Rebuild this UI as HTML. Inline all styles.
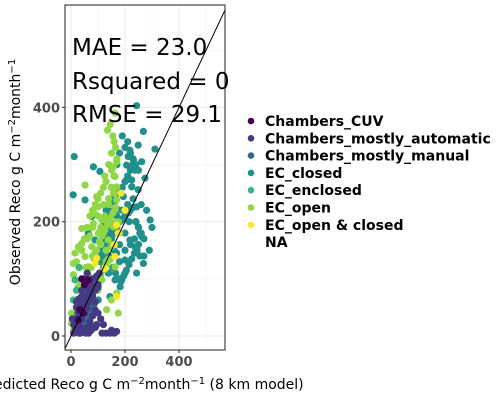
<!DOCTYPE html>
<html><head><meta charset="utf-8">
<style>
html,body{margin:0;padding:0;background:#fff;}
svg{display:block;font-family:"DejaVu Sans","Liberation Sans",sans-serif;}
</style></head>
<body>
<svg id="chart" width="500" height="400" viewBox="0 0 500 400">
<defs><clipPath id="pc"><rect x="65" y="5" width="160" height="345"/></clipPath></defs>
<rect x="65" y="5" width="160" height="345" fill="#fff"/>
<g id="grid"></g>
<g id="points" clip-path="url(#pc)"></g>
<g id="line" clip-path="url(#pc)"></g>
<rect x="65" y="5" width="160" height="345" fill="none" stroke="#333" stroke-width="1.1"/>
<g id="axes"></g>
<text x="72" y="55" font-size="23" fill="#000">MAE = 23.0</text>
<text x="72" y="89" font-size="23" fill="#000">Rsquared = 0</text>
<text x="72" y="122" font-size="23" fill="#000">RMSE = 29.1</text>
<text transform="translate(20,172) rotate(-90)" text-anchor="middle" font-size="14" fill="#000">Observed Reco g C m<tspan dy="-5" font-size="10">−2</tspan><tspan dy="5">month</tspan><tspan dy="-5" font-size="10">−1</tspan></text>
<text x="142" y="389" text-anchor="middle" font-size="14" fill="#000">Predicted Reco g C m<tspan dy="-5" font-size="10">−2</tspan><tspan dy="5">month</tspan><tspan dy="-5" font-size="10">−1</tspan><tspan dy="5"> (8 km model)</tspan></text>
<g id="legend"></g>
</svg>
<script>
const groups = ["Chambers_CUV","Chambers_mostly_automatic","Chambers_mostly_manual","EC_closed","EC_enclosed","EC_open","EC_open & closed","NA"];
const colors = ["#440154","#443A83","#31688E","#21908C","#35B779","#8FD744","#FDE725",null];
const xTicks = [0,200,400];
const yTicks = [0,200,400];

const ecOpenX = [163,169,157,163,52,95,101,40,83,114,157,163,157,15,9,9,40,52,27,77,101,138,64,114,144,126,169,175,150,132,15,2,2,27,40,89,150,163,138,169,169,60,70,80,110,130,120,150,100,90,60,45,30,20,140,125,175,180,150,160,130,110,75,55,35,25,160,150,85,70,
  10,20,30,40,50,60,70,80,90,100,110,120,130,140,15,25,35,45,55,65,75,85,95,105,115,125,135,145,155,165,20,40,60,80,100,120,140,160,150,140,130,120,110,100,90,80,70,60,50,40,30,170,165,155,145,135,125];
const ecOpenY = [390,305,296,279,264,244,226,188,197,203,250,221,191,145,127,107,162,139,156,156,180,168,121,98,133,121,75,40,63,46,63,40,22,86,98,145,156,121,203,261,238,110,120,140,160,150,180,200,80,60,50,70,30,40,230,210,200,180,260,340,130,190,100,120,90,60,280,320,215,175,
  10,15,25,35,45,55,65,75,85,95,105,115,125,135,30,45,60,75,90,105,120,135,150,165,175,185,195,205,215,225,130,150,170,190,210,230,240,250,290,300,270,260,250,240,230,220,210,190,170,150,120,310,330,350,370,360,280];

const ecClosedX = [12,8,243,268,311,249,218,262,206,83,107,237,274,225,194,243,280,293,249,262,237,268,243,200,126,64,89,163,188,126,169,200,89,138,182,52,77,175,212,218,114,163,52,101,144,188,225,249,206,231,212,150,140,160,175,190,200,210,220,230,180,170,150,130,110,100,120,140,160,180,200,220,240,260,230,210,190,170,150,130,200,215,180,160,140,120,250,270,290,300,255,235,
  100,110,120,130,140,150,160,170,180,190,200,210,220,230,240,250,260,270,105,115,125,135,145,155,165,175,185,195,205,215,225,235,245,255,200,210,220,230,240,250,190,180,170,160,150,140,130,120];
const ecClosedY = [314,247,403,358,327,334,325,305,299,296,288,290,276,261,244,226,220,203,191,174,156,127,110,110,191,180,168,180,203,156,145,133,98,110,86,75,209,221,215,168,133,98,238,63,69,98,273,256,273,308,314,240,220,230,250,260,270,280,290,300,200,210,170,180,150,140,120,110,120,130,150,160,200,230,240,230,220,190,200,210,180,200,160,150,140,130,160,140,150,190,180,170,
  150,160,170,175,180,185,190,195,200,205,210,215,220,225,200,190,180,170,130,140,150,160,170,120,110,100,95,105,115,125,135,145,150,140,330,340,320,310,300,290,350,320,300,280,260,240,220,200];

const autoX = [10,20,30,40,50,60,70,80,90,100,15,25,35,45,55,65,75,85,95,105,20,40,60,80,100,30,50,70,90,115,130,145,160,169,150,120,60,50,70,80,90,40,30,20,10,60,
  25,35,45,55,65,75,85,95,20,30,40,50,60,70,80,90,100,110,5,15];
const autoY = [5,10,20,30,40,50,60,70,80,90,15,30,45,60,70,80,90,100,105,110,50,70,90,100,85,5,8,10,15,5,5,5,5,8,10,20,110,100,25,35,45,55,40,30,20,15,
  20,15,10,5,5,10,15,20,60,65,80,85,90,95,80,60,40,30,30,25];

const manualX = [20,30,40,50,60,70,80,90,100,35,45,55,65,75,85,25,50,60,70,40];
const manualY = [10,20,30,40,50,60,70,80,86,5,15,25,35,45,55,40,60,70,20,65];

const cuvX = [40,33,64,27,50,45];
const cuvY = [100,46,98,28,90,40];

const enclosedX = [9,15,20,30,12];
const enclosedY = [63,98,80,120,30];

const yellowX = [169,175,163,126,169,95,89,185,200,160];
const yellowY = [194,180,139,118,69,136,127,250,220,160];

const seriesX = [cuvX, autoX, manualX, ecClosedX, enclosedX, ecOpenX, yellowX];
const seriesY = [cuvY, autoY, manualY, ecClosedY, enclosedY, ecOpenY, yellowY];
const drawOrder = [3,5,4,6,2,1,0];

const NS = "http://www.w3.org/2000/svg";
function sx(v){ return 71 + v*0.27; }
function sy(v){ return 336 - v*0.5715; }
function mk(tag, attrs, parent){ const e=document.createElementNS(NS,tag); for(const k in attrs) e.setAttribute(k,attrs[k]); parent.appendChild(e); return e; }

const grid=document.getElementById('grid');
[100,300,500].forEach(v=>{ mk('line',{x1:sx(v),x2:sx(v),y1:5,y2:350,stroke:'#f2f2f2','stroke-width':0.6},grid); mk('line',{x1:65,x2:225,y1:sy(v),y2:sy(v),stroke:'#f2f2f2','stroke-width':0.6},grid); });
xTicks.forEach(v=>{ const l=mk('line',{x1:sx(v),x2:sx(v),y1:5,y2:350,stroke:'#ebebeb','stroke-width':1.1},grid);

 });
yTicks.forEach(v=>{ const l=mk('line',{x1:65,x2:225,y1:sy(v),y2:sy(v),stroke:'#ebebeb','stroke-width':1.1},grid);

 });

const pts=document.getElementById('points');
drawOrder.forEach(s=>{
  const xs=seriesX[s], ys=seriesY[s];
  for(let i=0;i<xs.length;i++){
    const c=mk('circle',{cx:sx(xs[i]),cy:sy(ys[i]),r:3.6,fill:colors[s]},pts);
    
    
  }
});

const ln=document.getElementById('line');
const d=mk('line',{x1:sx(-30),y1:sy(-30),x2:sx(600),y2:sy(600),stroke:'#000','stroke-width':1},ln);



const ax=document.getElementById('axes');
xTicks.forEach(v=>{
  mk('line',{x1:sx(v),x2:sx(v),y1:350,y2:353,stroke:'#333','stroke-width':1.1},ax);
  const t=mk('text',{x:sx(v),y:366,'text-anchor':'middle','font-size':13,'font-weight':'bold',fill:'#4d4d4d'},ax);
  t.textContent=v;
  
  
});
yTicks.forEach(v=>{
  mk('line',{x1:62,x2:65,y1:sy(v),y2:sy(v),stroke:'#333','stroke-width':1.1},ax);
  const t=mk('text',{x:60,y:sy(v)+5,'text-anchor':'end','font-size':13,'font-weight':'bold',fill:'#4d4d4d'},ax);
  t.textContent=v;
  
  
});

const lg=document.getElementById('legend');
groups.forEach((g,i)=>{
  const y=121+i*17.3;
  if(colors[i]){ const c=mk('circle',{cx:251,cy:y,r:3.3,fill:colors[i]},lg);
    
     }
  const t=mk('text',{x:265,y:y+5,'font-size':14,'font-weight':'bold',fill:'#000'},lg);
  t.textContent=g;
  
  
});
</script>
</body></html>
